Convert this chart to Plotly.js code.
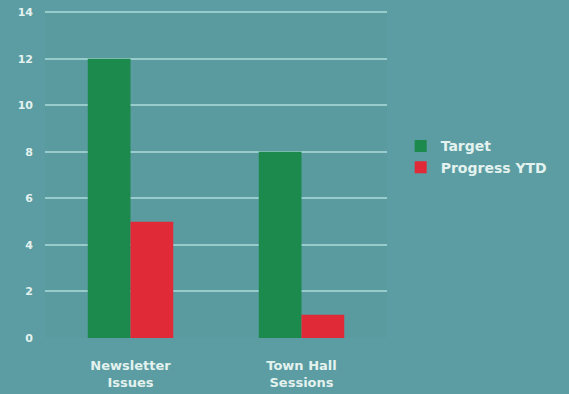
<!DOCTYPE html>
<html><head><meta charset="utf-8">
<script src="https://cdn.plot.ly/plotly-3.0.1.min.js"></script>
<style>html,body{margin:0;padding:0;background:#5b9da2;}#chart{width:569px;height:394px;}</style>
</head><body><div id="chart"></div>
<script>
const categories = ["Newsletter<br>Issues", "Town Hall<br>Sessions"];
const targetValues = [12, 8];
const progressValues = [5, 1];
const seriesNames = ["Target", "Progress YTD"];
const yTicks = [0, 2, 4, 6, 8, 10, 12, 14];

const data = [
  {type: "bar", name: seriesNames[0], x: categories, y: targetValues, marker: {color: "#1b8a4c"}},
  {type: "bar", name: seriesNames[1], x: categories, y: progressValues, marker: {color: "#e02a38"}}
];
const layout = {
  width: 569, height: 394,
  margin: {l: 45, r: 182, t: 11, b: 56},
  paper_bgcolor: "#5b9da2",
  plot_bgcolor: "#5a9ba0",
  barmode: "group",
  bargap: 0.5,
  bargroupgap: 0,
  font: {family: "DejaVu Sans, sans-serif", color: "#e4f2ef", size: 12, weight: "bold"},
  xaxis: {showgrid: false, zeroline: false, showline: false, ticks: "", ticklabelstandoff: 18, tickfont: {size: 13, color: "#e4f2ef", weight: "bold"}},
  yaxis: {range: [0, 14.05], tickvals: yTicks, showgrid: true, gridcolor: "#98cbcb", gridwidth: 2, zeroline: false, ticks: "", tickfont: {size: 11, color: "#e4f2ef", weight: "bold"}, ticklabelstandoff: 11},
  legend: {x: 1.04, y: 0.635, xanchor: "left", yanchor: "top", font: {size: 14, color: "#e4f2ef", weight: "bold"}, bgcolor: "rgba(0,0,0,0)", itemwidth: 30},
  showlegend: true
};
Plotly.newPlot("chart", data, layout, {displayModeBar: false, staticPlot: true});
</script></body></html>
